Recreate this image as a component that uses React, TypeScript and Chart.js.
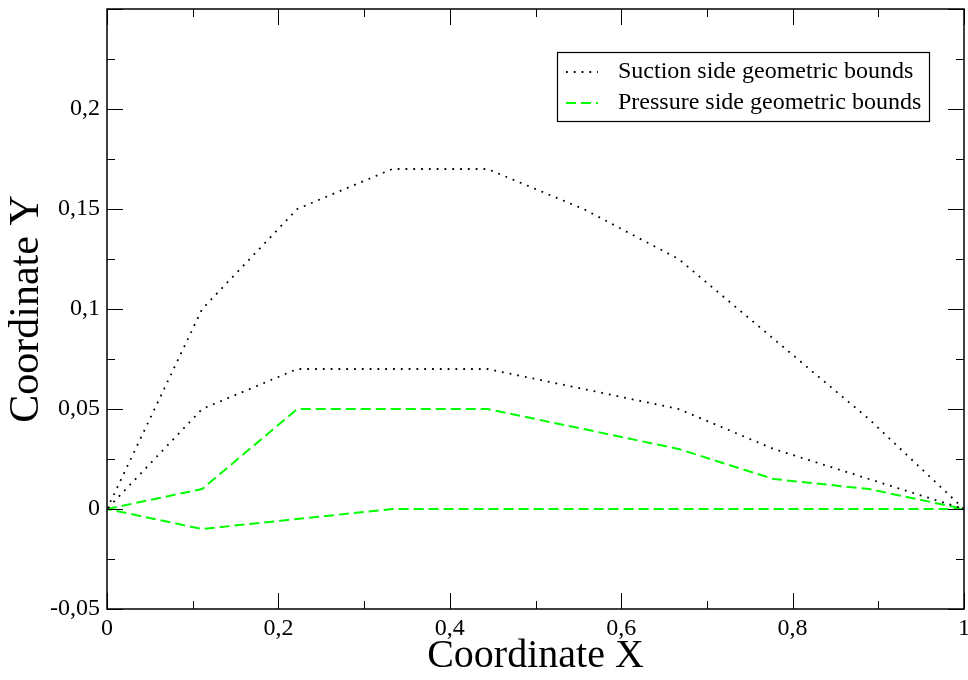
import React, { useEffect, useRef } from 'react';
import { Chart, registerables } from 'chart.js';

Chart.register(...registerables);

// ---- data ----
const xs = [0, 0.111, 0.222, 0.333, 0.444, 0.556, 0.667, 0.778, 0.889, 1];
const suctionUpper = [0, 0.1, 0.15, 0.17, 0.17, 0.15, 0.125, 0.085, 0.045, 0];
const suctionLower = [0, 0.05, 0.07, 0.07, 0.07, 0.06, 0.05, 0.03, 0.015, 0];
const pressureUpper = [0, 0.01, 0.05, 0.05, 0.05, 0.04, 0.03, 0.015, 0.01, 0];
const pressureLower = [0, -0.01, -0.005, 0, 0, 0, 0, 0, 0, 0];
const seriesLabels = ['Suction side geometric bounds', 'Pressure side geometric bounds'];
const xMajor = [0, 0.2, 0.4, 0.6, 0.8, 1];
const xMinor = [0.1, 0.3, 0.5, 0.7, 0.9];
const yMajor = [-0.05, 0, 0.05, 0.1, 0.15, 0.2, 0.25];
const yMinor = [-0.025, 0.025, 0.075, 0.125, 0.175, 0.225];
const xTitle = 'Coordinate X';
const yTitle = 'Coordinate Y';

const FONT = "'Liberation Serif', 'Times New Roman', serif";
const GREEN = '#00ff00';

function loop(up: number[], low: number[]) {
  const pts = xs.map((x, i) => ({ x, y: up[i] }));
  for (let i = xs.length - 1; i >= 0; i--) pts.push({ x: xs[i], y: low[i] });
  return pts;
}

function fmt(v: number) {
  const r = Math.round(v * 1000) / 1000;
  return String(r).replace('.', ',');
}

const framePlugin = {
  id: 'frameTicks',
  afterDatasetsDraw(chart: any) {
    const { ctx, chartArea, scales } = chart;
    const { left, right, top, bottom } = chartArea;
    ctx.save();
    ctx.strokeStyle = '#000';
    ctx.lineWidth = 1;
    ctx.setLineDash([]);
    const px = (v: number) => Math.round(scales.x.getPixelForValue(v)) + 0.5;
    const py = (v: number) => Math.round(scales.y.getPixelForValue(v)) + 0.5;
    ctx.beginPath();
    const drawX = (vals: number[], len: number) => {
      vals.forEach((v) => {
        const x = px(v);
        ctx.moveTo(x, bottom);
        ctx.lineTo(x, bottom - len);
        ctx.moveTo(x, top);
        ctx.lineTo(x, top + len);
      });
    };
    const drawY = (vals: number[], len: number) => {
      vals.forEach((v) => {
        const y = py(v);
        ctx.moveTo(left, y);
        ctx.lineTo(left + len, y);
        ctx.moveTo(right, y);
        ctx.lineTo(right - len, y);
      });
    };
    drawX(xMajor, 16);
    drawX(xMinor, 8);
    drawY(yMajor, 16);
    drawY(yMinor, 8);
    ctx.stroke();
    ctx.lineWidth = 1.5;
    ctx.strokeRect(left, top, right - left, bottom - top);
    ctx.restore();

    // legend
    const ds = chart.data.datasets;
    const bx = right - 407;
    const by = top + 43;
    const bw = 372;
    const bh = 69;
    ctx.save();
    ctx.fillStyle = '#fff';
    ctx.fillRect(bx, by, bw, bh);
    ctx.strokeStyle = '#000';
    ctx.lineWidth = 1.2;
    ctx.strokeRect(bx + 0.5, by + 0.5, bw, bh);
    ctx.font = `24px ${FONT}`;
    ctx.textBaseline = 'middle';
    ctx.fillStyle = '#000';
    ds.forEach((d: any, i: number) => {
      const cy = by + 20 + i * 31;
      ctx.beginPath();
      ctx.strokeStyle = d.borderColor;
      ctx.lineWidth = d.borderWidth;
      ctx.setLineDash(d.borderDash);
      ctx.moveTo(bx + 9, cy);
      ctx.lineTo(bx + 41, cy);
      ctx.stroke();
      ctx.setLineDash([]);
      ctx.fillText(d.label, bx + 61, cy);
    });
    ctx.restore();
  },
};

export default function App() {
  const ref = useRef<HTMLCanvasElement | null>(null);
  useEffect(() => {
    document.body.style.margin = '0';
    const canvas = ref.current;
    if (!canvas) return;
    const chart = new Chart(canvas, {
      type: 'scatter',
      data: {
        datasets: [
          {
            label: seriesLabels[0],
            data: loop(suctionUpper, suctionLower),
            showLine: true,
            borderColor: '#000',
            borderWidth: 1.8,
            borderDash: [1.8, 6],
            pointRadius: 0,
            fill: false,
          },
          {
            label: seriesLabels[1],
            data: loop(pressureUpper, pressureLower),
            showLine: true,
            borderColor: GREEN,
            borderWidth: 2,
            borderDash: [10, 5],
            pointRadius: 0,
            fill: false,
          },
        ],
      },
      options: {
        animation: false,
        responsive: false,
        layout: { padding: { top: 9, right: 4, left: 0, bottom: 0 } },
        plugins: { legend: { display: false }, tooltip: { enabled: false } },
        scales: {
          x: {
            type: 'linear',
            min: 0,
            max: 1,
            afterBuildTicks: (s: any) => {
              s.ticks = xMajor.map((v) => ({ value: v }));
            },
            afterFit: (s: any) => {
              s.height = 71;
              s.paddingLeft = 0;
              s.paddingRight = 0;
            },
            ticks: {
              color: '#000',
              font: { family: FONT, size: 24 },
              padding: 5,
              maxRotation: 0,
              autoSkip: false,
              callback: (v: any) => fmt(Number(v)),
            },
            grid: { display: false, drawTicks: false },
            border: { display: false },
            title: {
              display: true,
              text: xTitle,
              color: '#000',
              font: { family: FONT, size: 40, lineHeight: 1.2 },
              padding: { top: 0, bottom: 0 },
            },
          },
          y: {
            type: 'linear',
            min: -0.05,
            max: 0.25,
            afterBuildTicks: (s: any) => {
              s.ticks = yMajor.map((v) => ({ value: v }));
            },
            afterFit: (s: any) => {
              s.width = 107;
              s.paddingTop = 0;
              s.paddingBottom = 0;
            },
            ticks: {
              color: '#000',
              font: { family: FONT, size: 24 },
              padding: 7,
              autoSkip: false,
              callback: (v: any) => (Number(v) > 0.2001 ? '' : fmt(Number(v))),
            },
            grid: { display: false, drawTicks: false },
            border: { display: false },
            title: {
              display: true,
              text: yTitle,
              color: '#000',
              font: { family: FONT, size: 42, lineHeight: 1.2 },
              padding: { top: 2, bottom: 0 },
            },
          },
        },
      },
      plugins: [framePlugin],
    } as any);
    return () => chart.destroy();
  }, []);
  return <canvas ref={ref} width={968} height={680} style={{ display: 'block' }} />;
}
